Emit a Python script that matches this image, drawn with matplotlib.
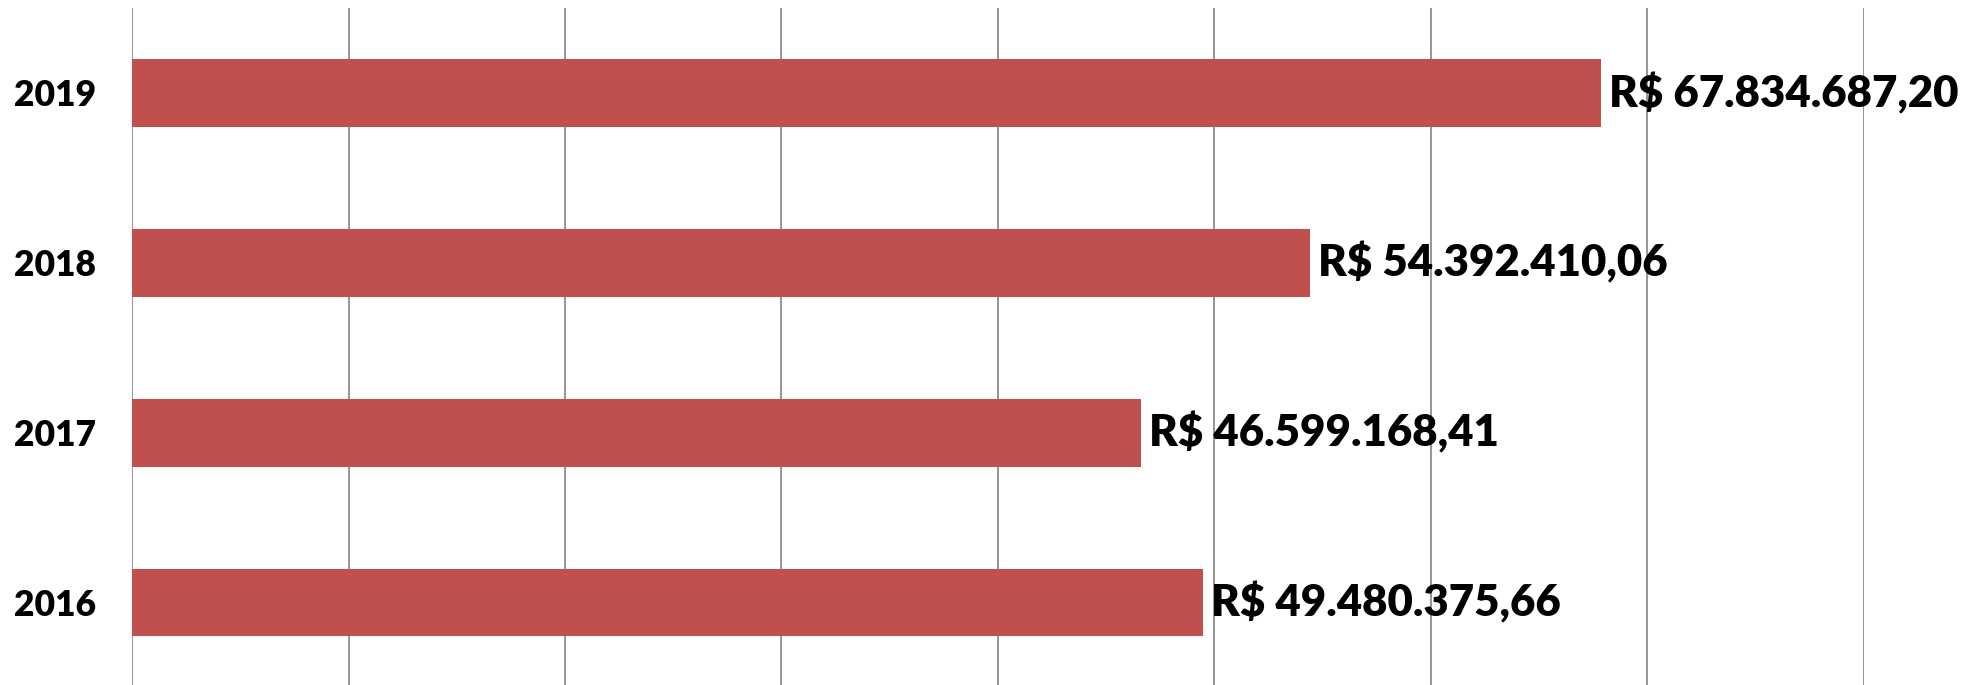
import matplotlib
matplotlib.use("Agg")
import matplotlib.pyplot as plt

plt.rcParams['font.family'] = ['Lato', 'DejaVu Sans']

anos = ["2016", "2017", "2018", "2019"]
valores = [49480375.66, 46599168.41, 54392410.06, 67834687.20]

BAR_COLOR = "#C0504D"
GRID_COLOR = "#8C8C8C"


def brl(v):
    s = f"{v:,.2f}"
    s = s.replace(",", "X").replace(".", ",").replace("X", ".")
    return "R$ " + s


fig = plt.figure(figsize=(19.66, 6.85), dpi=100)
ax = fig.add_axes([132 / 1966, -0.0035, 1732 / 1966, 0.9918])

pos = range(len(anos))
ax.barh(pos, valores, height=0.4, color=BAR_COLOR, zorder=2)

for p, v in zip(pos, valores):
    ax.text(v + 0.37e6, p, brl(v), va="center", ha="left",
            fontsize=31.5, fontweight="heavy", color="black", zorder=3)

ax.set_xlim(0, 80e6)
ax.set_ylim(-0.5, 3.5)
ax.set_xticks([i * 10e6 for i in range(9)])
ax.set_xticklabels([])
ax.set_yticks(list(pos))
ax.set_yticklabels(anos, fontsize=25.5, fontweight="heavy")
ax.tick_params(axis="both", length=0)
ax.tick_params(axis="y", pad=26)

ax.grid(axis="x", color=GRID_COLOR, linewidth=1.3)
ax.set_axisbelow(True)
for s in ax.spines.values():
    s.set_visible(False)

fig.savefig("out.png", dpi=100)
